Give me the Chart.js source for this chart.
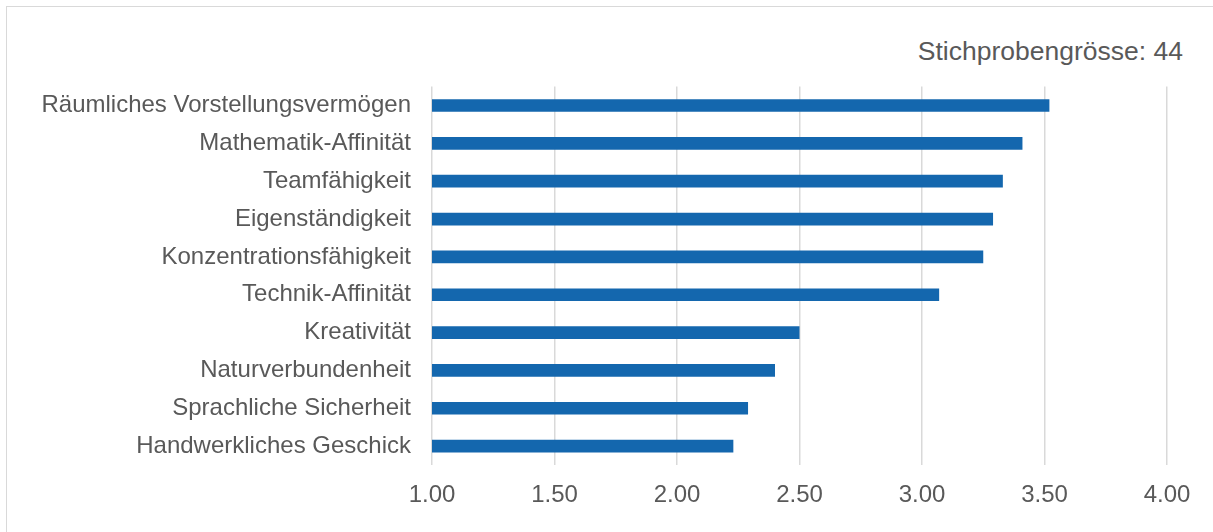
<!DOCTYPE html>
<html lang="de">
<head>
<meta charset="utf-8">
<title>Stichprobengrösse: 44</title>
<script src="https://cdn.jsdelivr.net/npm/chart.js@4/dist/chart.umd.min.js"></script>
<style>
  html, body { margin: 0; padding: 0; background: #fff; }
  body { width: 1213px; height: 532px; overflow: hidden; position: relative; }
  .frame {
    position: absolute; left: 6px; top: 6px; width: 1220px; height: 540px;
    border-left: 1px solid #d9d9d9; border-top: 1px solid #d9d9d9;
  }
  .sample {
    position: absolute; right: 30px; top: 36px; line-height: 30px;
    font: 26.5px "Liberation Sans", Arial, sans-serif; color: #595959;
  }
  .chart-box { position: absolute; left: 7px; top: 7px; width: 1206px; height: 525px; }
</style>
</head>
<body>
<div class="frame"></div>
<div class="sample">Stichprobengrösse: 44</div>
<div class="chart-box"><canvas id="chart"></canvas></div>
<script>
var categories = [
  'Räumliches Vorstellungsvermögen',
  'Mathematik-Affinität',
  'Teamfähigkeit',
  'Eigenständigkeit',
  'Konzentrationsfähigkeit',
  'Technik-Affinität',
  'Kreativität',
  'Naturverbundenheit',
  'Sprachliche Sicherheit',
  'Handwerkliches Geschick'
];
var scores = [3.52, 3.41, 3.33, 3.29, 3.25, 3.07, 2.50, 2.40, 2.29, 2.23];
var xTicks = [1.00, 1.50, 2.00, 2.50, 3.00, 3.50, 4.00];

(function () {
  var textColor = '#595959';
  var labelFont = { family: '"Liberation Sans", Arial, sans-serif', size: 24 };

  Chart.defaults.font.family = labelFont.family;
  Chart.defaults.color = textColor;

  new Chart(document.getElementById('chart'), {
    type: 'bar',
    data: {
      labels: categories,
      datasets: [{
        data: scores,
        backgroundColor: '#1467ae',
        borderWidth: 0,
        barPercentage: 0.335,
        categoryPercentage: 1
      }]
    },
    options: {
      indexAxis: 'y',
      responsive: true,
      maintainAspectRatio: false,
      animation: false,
      layout: { padding: { top: 79.6, right: 46, bottom: 7, left: 0 } },
      plugins: {
        legend: { display: false },
        tooltip: { enabled: false }
      },
      scales: {
        x: {
          min: xTicks[0],
          max: xTicks[xTicks.length - 1],
          afterBuildTicks: function (scale) {
            scale.ticks = xTicks.map(function (v) { return { value: v }; });
          },
          border: { display: false },
          grid: { color: '#d9d9d9', lineWidth: 1.5, drawTicks: false },
          ticks: {
            padding: 15.6,
            color: textColor,
            font: labelFont,
            callback: function (value) { return Number(value).toFixed(2); }
          }
        },
        y: {
          afterFit: function (scale) { scale.width = 425; },
          border: { display: false },
          grid: { display: false, drawTicks: false },
          ticks: {
            padding: 21,
            color: textColor,
            font: labelFont
          }
        }
      }
    }
  });
})();
</script>
</body>
</html>
